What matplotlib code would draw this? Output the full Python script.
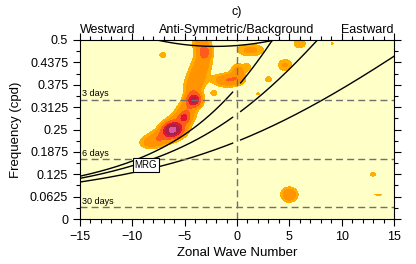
import numpy as np
import matplotlib
matplotlib.use("Agg")
import matplotlib.pyplot as plt

plt.rcParams['font.family'] = ['Liberation Sans', 'DejaVu Sans']

# equivalent depths (m) of the dispersion curves
depths = [12, 40, 100]
ig2_depths = [12]

# blobs of the power ratio field: wavenumber, frequency, amplitude, width k, width f
blob_k = [-3.4, -3.05, -3.3, -3.8, -4.2, -4.1, -4.8, -5.05, -5.6, -6.2, -7.2, -8.3,
          -0.9, 0.1, 1.3, 1.0, -2.2, 2.0, 3.0, 4.6, 6.0, 9.1, -7.1, 5.0, 13.0, 13.5]
blob_f = [0.497, 0.466, 0.435, 0.40, 0.365, 0.332, 0.30, 0.283, 0.265, 0.249, 0.228, 0.213,
          0.388, 0.41, 0.472, 0.425, 0.352, 0.35, 0.39, 0.43, 0.49, 0.49, 0.458, 0.068, 0.125, 0.068]
blob_a = [0.30, 0.40, 0.30, 0.28, 0.30, 1.0, 0.35, 0.5, 0.35, 1.35, 0.35, 0.25,
          0.4, 0.3, 0.25, 0.15, 0.15, 0.12, 0.15, 0.22, 0.2, 0.12, 0.15, 0.4, 0.15, 0.12]
blob_wk = [0.6, 0.45, 0.6, 0.6, 0.6, 0.45, 0.6, 0.3, 0.7, 0.6, 0.8, 0.7,
           0.9, 0.45, 0.9, 0.3, 0.3, 0.2, 0.3, 0.5, 0.45, 0.15, 0.3, 0.5, 0.25, 0.6]
blob_wf = [0.02, 0.012, 0.02, 0.02, 0.02, 0.012, 0.02, 0.008, 0.02, 0.013, 0.014, 0.012,
           0.012, 0.016, 0.012, 0.008, 0.007, 0.005, 0.008, 0.012, 0.01, 0.005, 0.008, 0.013, 0.006, 0.003]

levels = [1.1, 1.2, 1.4, 1.7, 2.0, 2.4, 10]
colors = ['#FFAE00', '#FF9400', '#FF5A1E', '#E0182E', '#A8204C', '#D85AA0']

period_days = [3, 6, 30]

# grid
kk = np.linspace(-15, 15, 301)
ff = np.linspace(0, 0.5, 251)
K, F = np.meshgrid(kk, ff)
Z = np.ones_like(K)
for k0, f0, a, wk, wf in zip(blob_k, blob_f, blob_a, blob_wk, blob_wf):
    Z += a * np.exp(-0.5 * ((K - k0) / wk) ** 2 - 0.5 * ((F - f0) / wf) ** 2)

# Matsuno curves
g = 9.81
re = 6.371e6
om = 7.292e-5
beta = 2 * om / re
tocpd = 86400 / (2 * np.pi)


def n0_curve(s, h):
    c = np.sqrt(g * h)
    k = s / re
    return (k * c / 2 + np.sqrt((k * c / 2) ** 2 + beta * c)) * tocpd


def ig_curve(s, h, n):
    c = np.sqrt(g * h)
    k = s / re
    w = np.sqrt((2 * n + 1) * beta * c + (k * c) ** 2)
    for _ in range(50):
        w = np.sqrt((2 * n + 1) * beta * c + (k * c) ** 2 + beta * c ** 2 * k / w)
    return w * tocpd


fig = plt.figure(figsize=(4.16, 2.64), dpi=100)
ax = fig.add_axes([80 / 416, 1 - 219 / 264, 314 / 416, 179 / 264])
ax.set_facecolor('#FFFFC8')

ax.contourf(K, F, Z, levels=levels, colors=colors)

s_w = np.linspace(-15, -0.42, 200)
s_e = np.linspace(0.35, 15, 200)
for h in depths:
    ax.plot(s_w, n0_curve(s_w, h), color='black', lw=1)
    ax.plot(s_e, n0_curve(s_e, h), color='black', lw=1)
s_all = np.linspace(-15, 15, 400)
for h in ig2_depths:
    ax.plot(s_all, ig_curve(s_all, h, 2), color='black', lw=1)

for p in period_days:
    ax.axhline(1 / p, color='#707070', lw=1, ls=(0, (5, 3)))
    ax.text(-14.8, 1 / p + 0.004, '%d days' % p, fontsize=6.5, va='bottom', ha='left')
ax.axvline(0, color='#707070', lw=1, ls=(0, (5, 3)))

ax.text(-8.7, 0.152, 'MRG', fontsize=7, ha='center', va='center',
        bbox=dict(boxstyle='square,pad=0.2', fc='white', ec='black', lw=0.8))

ax.set_xlim(-15, 15)
ax.set_ylim(0, 0.5)
ax.set_xticks([-15, -10, -5, 0, 5, 10, 15])
ax.set_xticks(np.arange(-15, 16, 1), minor=True)
ax.set_yticks([0, 0.0625, 0.125, 0.1875, 0.25, 0.3125, 0.375, 0.4375, 0.5])
ax.set_yticklabels(['0', '0.0625', '0.125', '0.1875', '0.25', '0.3125', '0.375', '0.4375', '0.5'])
ax.set_yticks(np.arange(0, 0.51, 0.03125), minor=True)
ax.tick_params(which='both', direction='out', top=True, right=True, labelsize=9, width=0.8)
ax.tick_params(which='major', length=5)
ax.tick_params(which='minor', length=3)
for sp in ax.spines.values():
    sp.set_linewidth(0.8)

ax.set_xlabel('Zonal Wave Number', fontsize=9.5, labelpad=3)
ax.set_ylabel('Frequency (cpd)', fontsize=9.5, labelpad=6)

ax.text(0, 1.02, 'Westward', transform=ax.transAxes, fontsize=9, ha='left', va='bottom')
ax.text(0.5, 1.02, 'Anti-Symmetric/Background', transform=ax.transAxes, fontsize=9, ha='center', va='bottom')
ax.text(1, 1.02, 'Eastward', transform=ax.transAxes, fontsize=9, ha='right', va='bottom')
fig.text(237 / 416, 1 - 12 / 264, 'c)', fontsize=9, ha='center', va='center')

fig.savefig('out.png', dpi=100)
